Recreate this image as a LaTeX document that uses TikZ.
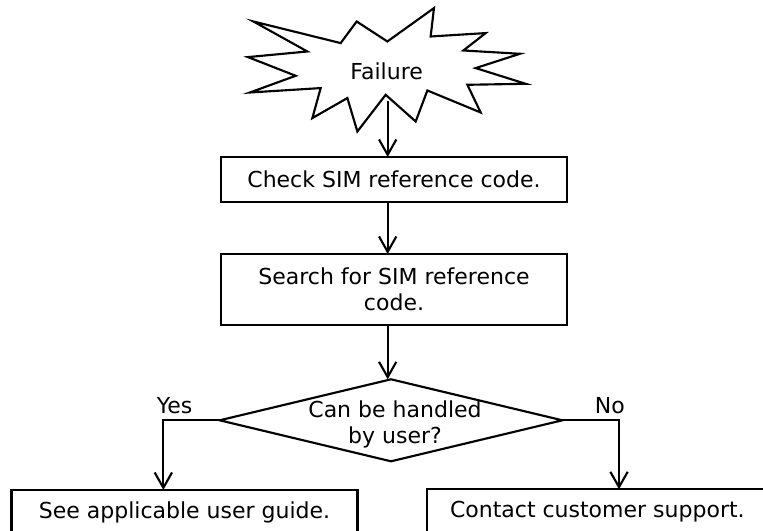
\documentclass[tikz,border=0pt]{standalone}
\usepackage{fontspec}
\setmainfont{DejaVu Sans}
\usetikzlibrary{positioning, shapes.geometric, arrows.meta}

\begin{document}
\begin{tikzpicture}[
    font=\fontsize{16.5}{19.5}\selectfont,
    every node/.style={outer sep=0pt},
    stepbox/.style={rectangle, draw, line width=1.6pt, minimum width=259.5pt, minimum height=33.75pt, align=center},
    decision/.style={diamond, draw, line width=1.6pt, minimum width=257pt, minimum height=61.5pt, inner sep=0pt},
    burst/.style={draw, line width=1.6pt},
    conn/.style={line width=1.6pt, -{Straight Barb[length=11.5pt, width=13pt]}},
    answer/.style={inner sep=0pt}
]

% page frame
\useasboundingbox (0,0) rectangle (572.25pt,-398.25pt);

% main column
\node[stepbox] (check) at (295.5pt,-134.6pt) {Check SIM reference code.};
\node[stepbox, below=39pt of check, minimum height=53.25pt] (search) {Search for SIM reference\\code.};
\node[decision, below=40.75pt of search, xshift=-2.25pt] (dec) {};
\node[align=center, inner sep=0pt, xshift=3pt, yshift=-3pt] (dec_text) at (dec.center) {Can be handled\\by user?};

% start
\node[inner sep=0pt, above=57.5pt of check, xshift=-5.5pt] (failure) {Failure};
\draw[burst, shift={(failure.center)}, x=0.75pt, y=-0.75pt]
    (-133.3,-50.3) -- (-46,-28.7) -- (-30,-50.3) -- (0.7,-30.3) -- (47.3,-63.7)
    -- (44,-35.3) -- (99,-38.7) -- (76.7,-21.3) -- (133.3,-18) -- (89,-3.7)
    -- (139,12) -- (80.7,13) -- (94,40.7) -- (40.7,18.7) -- (29,49.7)
    -- (-1,23) -- (-29.3,59.7) -- (-39.3,26.3) -- (-74.3,46.3) -- (-66,16.3)
    -- (-136.7,20.7) -- (-91,4) -- (-138.7,-14.7) -- (-79.3,-20.3) -- cycle;
\coordinate[below=21.75pt of failure.center, xshift=0.75pt] (failure_out);

% outcomes
\node[stepbox, below=21.5pt of dec, xshift=-154.85pt] (guide) {See applicable user guide.};
\node[stepbox, below=21pt of dec, xshift=154.75pt, minimum width=256pt] (support) {Contact customer support.};
\coordinate[left=15.9pt of guide.north] (yes_drop);
\coordinate[right=16.25pt of support.north] (no_drop);

% edges
\draw[conn] (failure_out) -- (failure_out |- check.north);
\draw[conn] (check.south -| failure_out) -- (search.north -| failure_out);
\draw[conn] (search.south -| failure_out) -- (dec.north -| failure_out);
\draw[conn] (dec.west) -| node[answer, pos=0.4, above=4.5pt] (yes_label) {Yes} (yes_drop);
\draw[conn] (dec.east) -| node[answer, pos=0.42, above=4.5pt] (no_label) {No} (no_drop);

\end{tikzpicture}
\end{document}
